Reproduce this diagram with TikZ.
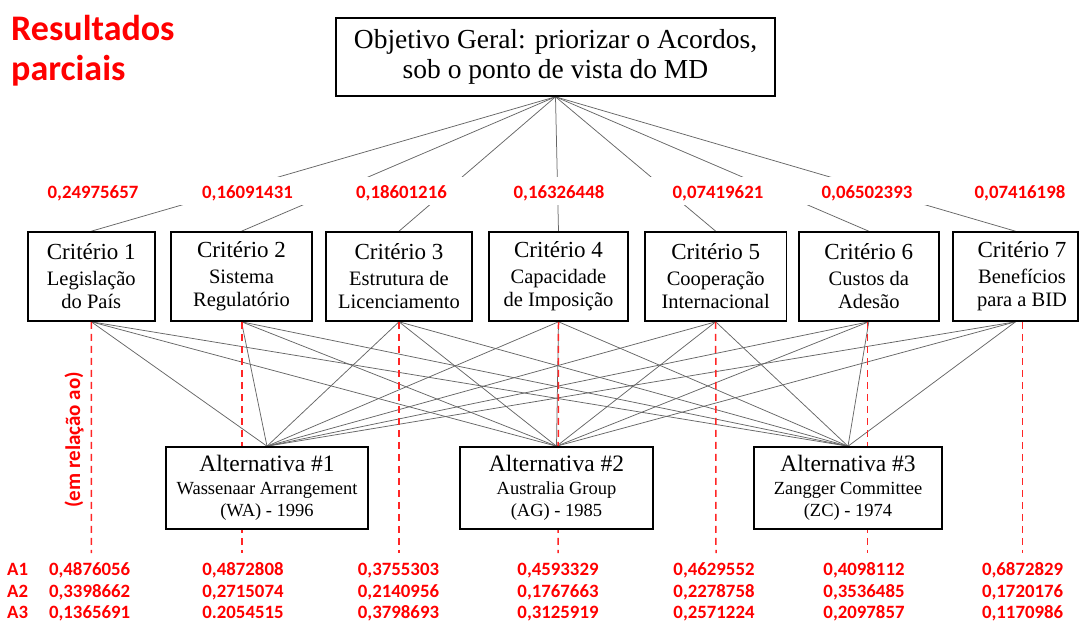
\documentclass[tikz,border=0pt]{standalone}
\usepackage{fontspec}
\setmainfont{Liberation Serif}
\newfontfamily\redfont{Carlito}
\usetikzlibrary{backgrounds}
\begin{document}
\begin{tikzpicture}[x=1pt,y=-1pt,
  box/.style={draw=black, line width=1.6pt, fill=white, inner sep=0pt, align=center},
  critbox/.style={box, minimum height=89pt, font=\fontsize{20.5}{23}\selectfont},
  altbox/.style={box, minimum height=82pt, font=\fontsize{18.5}{22.5}\selectfont},
  conn/.style={draw=black!60, line width=0.75pt},
  redline/.style={draw=red!85, line width=1.5pt, dash pattern=on 7pt off 5pt},
  redtxt/.style={text=red, inner sep=0pt, anchor=base, font=\redfont\bfseries\fontsize{18.8}{22}\selectfont}
]
\useasboundingbox (0,0) rectangle (1079,621);
\clip (0,0) rectangle (1079,621);

% title
\node[text=red, anchor=north west, inner sep=0pt, align=left,
      font=\redfont\bfseries\fontsize{36}{40}\selectfont] (title) at (11,15) {Resultados\\parciais};

% goal
\node[box, minimum width=439pt, minimum height=78pt, font=\fontsize{27.5}{29.5}\selectfont]
  (goal) at (555.5,57) {Objetivo Geral: priorizar o Acordos,\\sob o ponto de vista do MD};

% criteria
\newcommand{\crit}[1]{{\fontsize{23}{27}\selectfont #1}\\[3pt]}
\node[critbox, minimum width=127pt] (c1) at (91.3,276.5) {\crit{Critério 1}Legislação\\do País};
\node[critbox, minimum width=141pt] (c2) at (241.5,276.5) {\crit{Critério 2}Sistema\\Regulatório};
\node[critbox, minimum width=146pt] (c3) at (399,276.5) {\crit{Critério 3}Estrutura de\\Licenciamento};
\node[critbox, minimum width=139pt] (c4) at (558.5,276.5) {\crit{Critério 4}Capacidade\\de Imposição};
\node[critbox, minimum width=141.5pt] (c5) at (715.7,276.5) {\crit{Critério 5}Cooperação\\Internacional};
\node[critbox, minimum width=140pt] (c6) at (868.8,276.5) {\crit{Critério 6}Custos da\\Adesão};
\node[critbox, minimum width=125pt] (c7) at (1015.5,276.5)
  {\crit{\hspace*{13pt}Critério 7}\hspace*{13pt}Benefícios\\\hspace*{13pt}para a BID};

% alternatives
\newcommand{\alttitle}[1]{{\fontsize{23.5}{26}\selectfont #1}\\}
\node[altbox, minimum width=202pt] (a1) at (267,488) {\alttitle{Alternativa \#1}Wassenaar Arrangement\\(WA) - 1996};
\node[altbox, minimum width=193pt] (a2) at (556.5,488) {\alttitle{Alternativa \#2}Australia Group\\(AG) - 1985};
\node[altbox, minimum width=187.5pt] (a3) at (848,488) {\alttitle{Alternativa \#3}Zangger Committee\\(ZC) - 1974};

% dashed line ends
\coordinate (d1) at (91.4,553);
\coordinate (d2) at (242,553);
\coordinate (d3) at (399,553);
\coordinate (d4) at (558,553);
\coordinate (d5) at (716,553);
\coordinate (d6) at (867.6,553);
\coordinate (d7) at (1022.5,553);

\begin{scope}[on background layer]
  \foreach \i in {1,...,7} {
    \draw[conn] (goal.south) -- (c\i.north);
    \foreach \j in {1,2,3} \draw[conn] (c\i.south) -- (a\j.north);
  }
  \fill[white] (0,177) rectangle (1079,205);
  \draw[redline] (c1.south) -- (d1);
  \draw[redline] ([xshift=0.5pt]c2.south) -- (d2);
  \draw[redline] (c3.south) -- (d3);
  \draw[redline] (c4.south) -- (d4);
  \draw[redline] (c5.south) -- (d5);
  \draw[redline] ([xshift=-1.2pt]c6.south) -- (d6);
  \draw[redline] ([xshift=7pt]c7.south) -- (d7);
\end{scope}

% weights
\node[redtxt] (w1) at (93,198.5) {0,24975657};
\node[redtxt] (w2) at (247.5,198.5) {0,16091431};
\node[redtxt] (w3) at (401.5,198.5) {0,18601216};
\node[redtxt] (w4) at (559,198.5) {0,16326448};
\node[redtxt] (w5) at (718,198.5) {0,07419621};
\node[redtxt] (w6) at (867,198.5) {0,06502393};
\node[redtxt] (w7) at (1020,198.5) {0,07416198};

% side label
\node[text=red, inner sep=0pt, rotate=90, font=\redfont\bfseries\fontsize{21}{24}\selectfont] (rel) at (74,440) {(em relação ao)};

% results table
\node[redtxt] (r1) at (17.6,575) {A1};
\node[redtxt] (r2) at (17.6,597) {A2};
\node[redtxt] (r3) at (17.6,618) {A3};

\node[redtxt] (v11) at (89.6,575) {0,4876056};
\node[redtxt] (v12) at (89.6,597) {0,3398662};
\node[redtxt] (v13) at (89.6,618) {0,1365691};
\node[redtxt] (v21) at (243,575) {0,4872808};
\node[redtxt] (v22) at (243,597) {0,2715074};
\node[redtxt] (v23) at (243,618) {0.2054515};
\node[redtxt] (v31) at (398.5,575) {0,3755303};
\node[redtxt] (v32) at (398.5,597) {0,2140956};
\node[redtxt] (v33) at (398.5,618) {0,3798693};
\node[redtxt] (v41) at (558,575) {0,4593329};
\node[redtxt] (v42) at (558,597) {0,1767663};
\node[redtxt] (v43) at (558,618) {0,3125919};
\node[redtxt] (v51) at (714,575) {0,4629552};
\node[redtxt] (v52) at (714,597) {0,2278758};
\node[redtxt] (v53) at (714,618) {0,2571224};
\node[redtxt] (v61) at (864,575) {0,4098112};
\node[redtxt] (v62) at (864,597) {0,3536485};
\node[redtxt] (v63) at (864,618) {0,2097857};
\node[redtxt] (v71) at (1022.6,575) {0,6872829};
\node[redtxt] (v72) at (1022.6,597) {0,1720176};
\node[redtxt] (v73) at (1022.6,618) {0,1170986};
\end{tikzpicture}
\end{document}
